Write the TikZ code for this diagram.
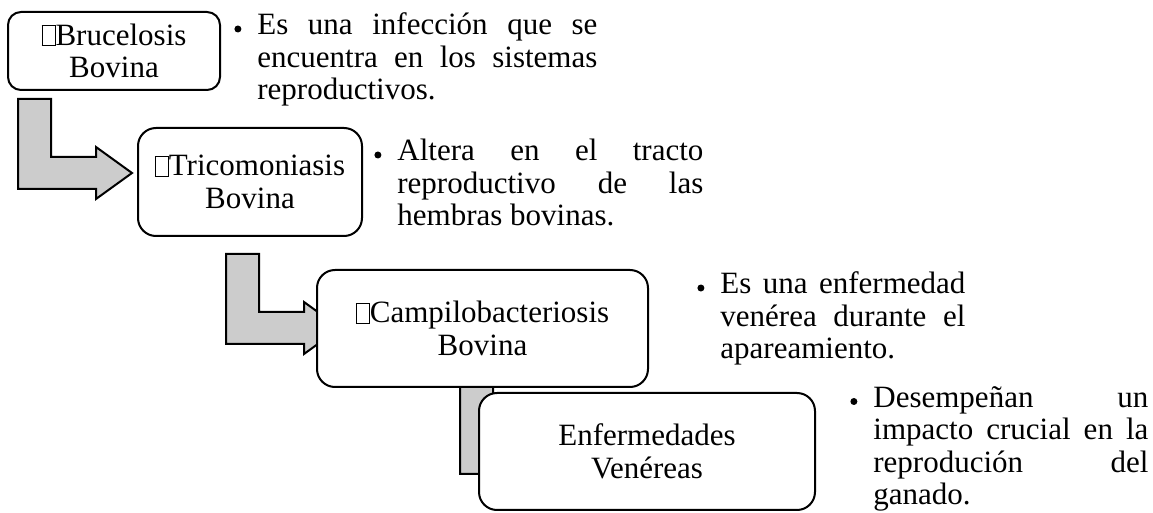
\documentclass[tikz,border=0pt]{standalone}
\usepackage{fontspec}
\setmainfont{Liberation Serif}
\usetikzlibrary{calc,backgrounds}

\newcommand{\tofu}{{\fboxsep=0pt\fboxrule=0.5pt\fbox{\rule{0pt}{9.5pt}\hspace{6pt}}}}
\newcommand{\blt}{\makebox[0pt][r]{\raisebox{1.25pt}{\tikz\fill (0,0) circle (1.75pt);}\hspace{8pt}}}
\newcommand{\jl}[2]{\makebox[#1][s]{#2}}

\begin{document}
\begin{tikzpicture}[x=0.5pt,y=-0.5pt,font=\fontsize{15.5pt}{16.25pt}\selectfont,
    box/.style={draw,line width=1pt,fill=white,rounded corners=9pt,align=center,inner sep=0pt},
    bentarrow/.style={draw,line width=1pt,fill=black!20,line join=miter},
    note/.style={anchor=base west,align=left,inner sep=0pt}]
    \useasboundingbox (0,0) rectangle (1153,513);

    % boxes
    \node[box,minimum width=106pt,minimum height=39pt,rounded corners=6.5pt] (brucelosis) at (114,51) {\tofu Brucelosis\\Bovina};
    \node[box,minimum width=112pt,minimum height=54pt] (tricomoniasis) at (250,182) {\tofu Tricomoniasis\\Bovina};
    \node[box,minimum width=165.5pt,minimum height=58.5pt] (campilo) at (482.5,328.5) {\tofu Campilobacteriosis\\Bovina};
    \node[box,minimum width=168pt,minimum height=58.5pt] (enfermedades) at (647,451.5) {Enfermedades\\Venéreas};

    % notes (anchored at the baseline of their last line)
    \node[note] (n1) at (257,100) {\blt\jl{170pt}{Es una infección que se}\\\jl{170pt}{encuentra en los sistemas}\\reproductivos.};
    \node[note] (n2) at (397,226) {\blt\jl{153pt}{Altera en el tracto}\\\jl{153pt}{reproductivo de las}\\hembras bovinas.};
    \node[note] (n3) at (720,359) {\blt\jl{122.5pt}{Es una enfermedad}\\\jl{122.5pt}{venérea durante el}\\apareamiento.};
    \node[note] (n4) at (873,505) {\blt\jl{137.5pt}{Desempeñan un}\\\jl{137.5pt}{impacto crucial en la}\\\jl{137.5pt}{reprodución del}\\ganado.};

    % bent arrows
    \begin{pgfonlayer}{background}
    \coordinate (a1) at ($(brucelosis.south west)+(11,8)$);
    \coordinate (a2) at ($(tricomoniasis.south west)+(89,17)$);
    \coordinate (a3) at ($(campilo.south west)+(144,-4)$);
    \foreach \s in {a1,a2,a3}
      \draw[bentarrow] (\s) -- ++(33,0) -- ++(0,58) -- ++(45,0) -- ++(0,-10) -- ++(36,26) -- ++(-36,26) -- ++(0,-10) -- ++(-78,0) -- cycle;
    \end{pgfonlayer}
\end{tikzpicture}
\end{document}
